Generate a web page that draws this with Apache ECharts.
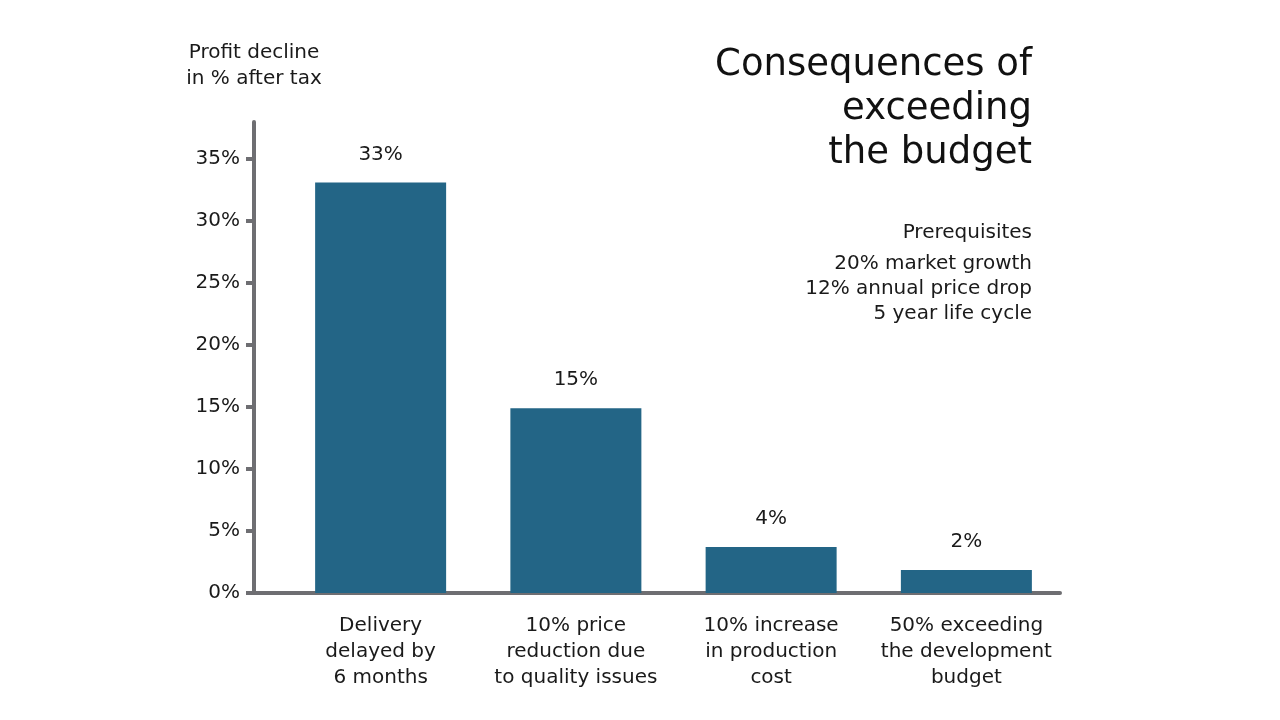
<!DOCTYPE html>
<html>
<head>
<meta charset="utf-8">
<script src="https://cdn.jsdelivr.net/npm/echarts@6/dist/echarts.min.js"></script>
<style>
  html, body { margin: 0; padding: 0; background: #fff; }
  #chart { width: 1280px; height: 720px; }
</style>
</head>
<body>
<div id="chart"></div>
<script>
// categories and values
var categories = [
  'Delivery\ndelayed by\n6 months',
  '10% price\nreduction due\nto quality issues',
  '10% increase\nin production\ncost',
  '50% exceeding\nthe development\nbudget'
];
var profitDecline = [33.1, 14.9, 3.7, 1.85];
var yTicks = [0, 5, 10, 15, 20, 25, 30, 35];

var titleLines = ['Consequences of', 'exceeding', 'the budget'];
var prereqHead = 'Prerequisites';
var prereqLines = ['20% market growth', '12% annual price drop', '5 year life cycle'];
var yName = 'Profit decline\nin % after tax';

var FONT = 'DejaVu Sans';
var AXIS = '#6e6e72';
var BAR = '#236586';
var TXT = '#1a1a1a';
var FS = 20;

var myChart = echarts.init(document.getElementById('chart'));
var option = {
  backgroundColor: '#fff',
  animation: false,
  textStyle: { fontFamily: FONT },
  title: [{
    text: titleLines.join('\n'),
    left: 1032,
    top: 43,
    padding: 0,
    textAlign: 'right',
    textStyle: { fontFamily: FONT, fontSize: 37, fontWeight: 'normal', color: '#111', lineHeight: 44 }
  }, {
    text: prereqHead,
    left: 1032,
    top: 223,
    padding: 0,
    textAlign: 'right',
    textStyle: { fontFamily: FONT, fontSize: FS, fontWeight: 'normal', color: TXT }
  }, {
    text: prereqLines.join('\n'),
    left: 1032,
    top: 251,
    padding: 0,
    textAlign: 'right',
    textStyle: { fontFamily: FONT, fontSize: FS, fontWeight: 'normal', color: TXT, lineHeight: 25 }
  }],
  grid: [
    // axis lines only
    { left: 254, right: 220, top: 122, bottom: 127 },
    // bars, ticks and labels
    { left: 283, right: 216, top: 159, bottom: 127 }
  ],
  xAxis: [{
    type: 'value', gridIndex: 0, min: 0, max: 1,
    axisLine: { show: true, lineStyle: { color: AXIS, width: 4 } },
    axisTick: { show: false }, axisLabel: { show: false }, splitLine: { show: false }
  }, {
    type: 'category', gridIndex: 1, data: categories,
    axisLine: { show: false }, axisTick: { show: false },
    axisLabel: { margin: 20, fontFamily: FONT, fontSize: FS, lineHeight: 26, color: TXT, interval: 0 }
  }],
  yAxis: [{
    type: 'value', gridIndex: 0, min: 0, max: 1,
    name: yName, nameLocation: 'end', nameGap: 30,
    nameTextStyle: { fontFamily: FONT, fontSize: FS, lineHeight: 26, color: TXT, align: 'center', verticalAlign: 'bottom' },
    axisLine: { show: true, lineStyle: { color: AXIS, width: 4 } },
    axisTick: { show: false }, axisLabel: { show: false }, splitLine: { show: false }
  }, {
    type: 'value', gridIndex: 1, offset: 29,
    min: yTicks[0], max: yTicks[yTicks.length - 1], interval: 5,
    axisLine: { show: false },
    axisTick: { show: true, length: 8, lineStyle: { color: AXIS, width: 4 } },
    axisLabel: { margin: 14, fontFamily: FONT, fontSize: FS, color: TXT, formatter: '{value}%' },
    splitLine: { show: false }
  }],
  series: [{
    type: 'bar',
    xAxisIndex: 1, yAxisIndex: 1,
    data: profitDecline,
    barWidth: 131,
    itemStyle: { color: BAR },
    label: {
      show: true, position: 'top', distance: 18,
      fontFamily: FONT, fontSize: FS, color: TXT,
      formatter: function (p) { return Math.round(p.value) + '%'; }
    }
  }]
};
myChart.setOption(option);
</script>
</body>
</html>
